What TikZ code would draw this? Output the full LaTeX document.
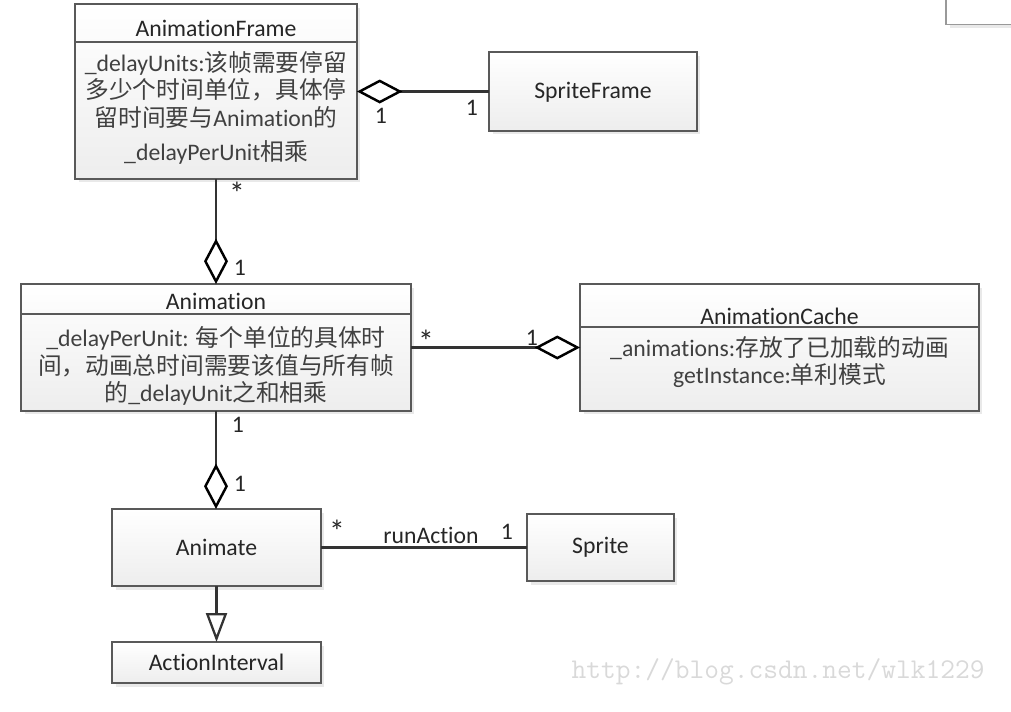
\documentclass[tikz,border=0pt]{standalone}
\usepackage{fontspec}
\setmainfont{Carlito}[Ligatures=NoCommon]
\newfontfamily\cjk{Noto Sans CJK SC}
\usetikzlibrary{arrows.meta,shadows}

\newcommand{\zh}[1]{{\cjk #1}}

\begin{document}
\begin{tikzpicture}[x=0.02cm,y=-0.02cm,
        font=\fontsize{13.5}{16}\selectfont,
        class box/.style={rectangle,draw=black!65,line width=0.8pt,
            top color=white,bottom color=black!7,outer sep=0pt,inner sep=0pt,
            drop shadow={shadow xshift=0.07cm,shadow yshift=-0.07cm,opacity=0.35,fill=black!25}},
        class name/.style={text=black!85,inner sep=0pt},
        attr/.style={align=center,text=black!75,inner sep=0pt,font=\fontsize{13.5}{15.6}\selectfont},
        sep line/.style={draw=black!65,line width=0.8pt},
        link/.style={draw=black!80,line width=1.3pt},
        aggr/.style={link,-{Diamond[open,length=0.91cm,width=0.48cm,line width=1.4pt,color=black]}},
        inherit/.style={link,-{Triangle[open,length=0.58cm,width=0.42cm,line width=1.3pt]}},
        mult/.style={text=black!85,inner sep=0pt},
        many/.style={mult,font=\fontsize{18}{18}\selectfont},
        watermark/.style={text=black!15,inner sep=0pt,font=\ttfamily\fontsize{16.3}{18}\selectfont}]

    \useasboundingbox (0,0) rectangle (1011,711);

    % cut-off box in the top right corner
    \node[class box,draw=black!40,top color=white,bottom color=white,
        minimum width=1.6cm,minimum height=0.7cm] (corner) at (986,7) {};

    % classes
    \node[class box,minimum width=5.64cm,minimum height=3.5cm] (AnimationFrame) at (216,91.5) {};
    \node[class name] (AnimationFrameName) at (216,28) {AnimationFrame};
    \draw[sep line] (AnimationFrame.west |- 0,42) -- (AnimationFrame.east |- 0,42);
    \node[attr] (AnimationFrameAttr) at (216,108) {\_delayUnits:\zh{该帧需要停留}\\
        \zh{多少个时间单位，具体停}\\
        \zh{留时间要与}Animation\zh{的}\\[4pt]
        \_delayPerUnit\zh{相乘}};

    \node[class box,minimum width=4.16cm,minimum height=1.58cm] (SpriteFrame) at (593,91.5) {};
    \node[class name] (SpriteFrameName) at (593,92) {SpriteFrame};

    \node[class box,minimum width=7.8cm,minimum height=2.54cm] (Animation) at (216,347.5) {};
    \node[class name] (AnimationName) at (216,301) {Animation};
    \draw[sep line] (Animation.west |- 0,314) -- (Animation.east |- 0,314);
    \node[attr] (AnimationAttr) at (216,366) {\_delayPerUnit: \zh{每个单位的具体时}\\
        \zh{间，动画总时间需要该值与所有帧}\\
        \zh{的}\_delayUnit\zh{之和相乘}};

    \node[class box,minimum width=7.98cm,minimum height=2.54cm] (AnimationCache) at (779.5,347.5) {};
    \node[class name] (AnimationCacheName) at (779.5,316) {AnimationCache};
    \draw[sep line] (AnimationCache.west |- 0,327) -- (AnimationCache.east |- 0,327);
    \node[attr] (AnimationCacheAttr) at (779.5,362) {\_animations:\zh{存放了已加载的动画}\\
        getInstance:\zh{单利模式}};

    \node[class box,minimum width=4.18cm,minimum height=1.54cm] (Animate) at (216.5,547.5) {};
    \node[class name] (AnimateName) at (216.5,547) {Animate};

    \node[class box,minimum width=2.94cm,minimum height=1.34cm] (Sprite) at (600.5,547.5) {};
    \node[class name] (SpriteName) at (600.5,547) {Sprite};

    \node[class box,minimum width=4.18cm,minimum height=0.82cm] (ActionInterval) at (216.5,662.5) {};
    \node[class name] (ActionIntervalName) at (216.5,662) {ActionInterval};

    % connectors
    \draw[aggr] (SpriteFrame.west) -- (AnimationFrame.east);
    \draw[aggr] (AnimationFrame.south) -- (AnimationFrame.south |- Animation.north);
    \draw[aggr] (Animation.east) -- (AnimationCache.west);
    \draw[aggr] (Animation.south) -- (Animation.south |- Animate.north);
    \draw[link] (Animate.east) -- (Sprite.west);
    \draw[inherit] (Animate.south) -- (ActionInterval.north);

    % multiplicities and roles
    \node[mult] (mFrameA) at (381,116) {1};
    \node[mult] (mFrameB) at (472,108) {1};
    \node[many] (mAnimA) at (237,193) {*};
    \node[mult] (mAnimB) at (240,268) {1};
    \node[many] (mCacheA) at (426,341) {*};
    \node[mult] (mCacheB) at (532,338) {1};
    \node[mult] (mActA) at (238,425) {1};
    \node[mult] (mActB) at (240,484) {1};
    \node[many] (mSpriteA) at (337,531) {*};
    \node[mult] (runAction) at (431,535) {runAction};
    \node[mult] (mSpriteB) at (507,532) {1};

    \node[watermark] (wm) at (778,672) {http://blog.csdn.net/wlk1229};

\end{tikzpicture}
\end{document}
